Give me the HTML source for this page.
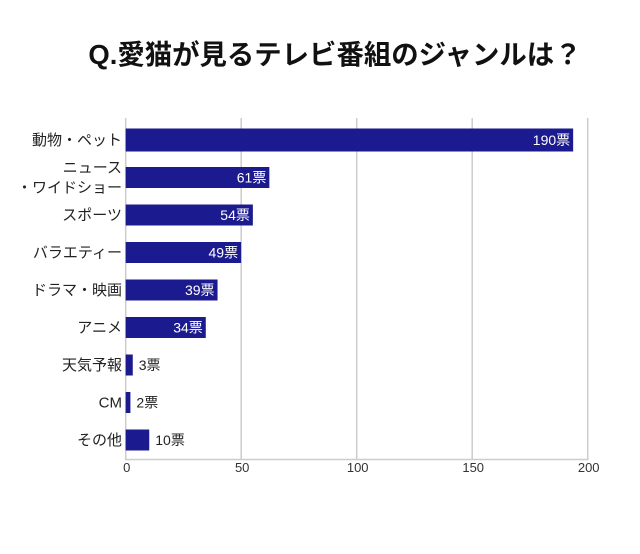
<!DOCTYPE html>
<html><head><meta charset="utf-8"><style>
body{margin:0;background:#fff;width:640px;height:549px;overflow:hidden;font-family:"Liberation Sans","Noto Sans CJK JP",sans-serif}
</style></head><body>
<svg width="640" height="549">
<text x="335" y="64" text-anchor="middle" font-size="27.4" font-weight="bold" fill="#111" font-family="Liberation Sans, Noto Sans CJK JP, sans-serif">Q.愛猫が見るテレビ番組のジャンルは？</text>
<g id="grid"></g><g id="bars"></g>
</svg>
<script>
const categories=["動物・ペット","ニュース\n・ワイドショー","スポーツ","バラエティー","ドラマ・映画","アニメ","天気予報","CM","その他"];
const values=[190,61,54,49,39,34,3,2,10];
const ticks=[0,50,100,150,200];
const rowCenters0=140, rowStep=37.5;
const x=v=>125.7+v*2.31;
const xb=v=>125.7+v*2.355;
const y=i=>rowCenters0+i*rowStep;
const NS="http://www.w3.org/2000/svg";
const grid=document.getElementById('grid'),bars=document.getElementById('bars');
function mk(tag,attrs,parent,text){const e=document.createElementNS(NS,tag);for(const k in attrs)e.setAttribute(k,attrs[k]);if(text!==undefined)e.textContent=text;parent.appendChild(e);return e;}
ticks.forEach(t=>{
 const l=mk('line',{x1:x(t),x2:x(t),y1:118,y2:460,stroke:'#ccc','stroke-width':1.5},grid);
 
 
 const tx=mk('text',{x:x(t)+1,y:472,'text-anchor':'middle','font-size':13,fill:'#333'},grid,t);
 
 
});
const ax=mk('line',{x1:125,x2:588.5,y1:459.5,y2:459.5,stroke:'#ccc','stroke-width':1.5},grid);


categories.forEach((c,i)=>{
 const cy=y(i),v=values[i],h=i==0?23:21;
 const r=mk('rect',{x:125.7,y:cy-h/2,width:xb(v)-125.7,height:h,fill:'#1c1a8f'},bars);
 
 
 const lines=c.split('\n');
 lines.forEach((ln,j)=>{
  const t=mk('text',{x:122,y:cy+5+(j-(lines.length-1)/2)*20,'text-anchor':'end','font-size':15,fill:'#222'},bars,ln);
  
  
 });
 const inside=v>20;
 const vl=mk('text',{x:inside?xb(v)-3:xb(v)+6,y:cy+5,'text-anchor':inside?'end':'start','font-size':14,fill:inside?'#fff':'#222'},bars,v+'票');
 
 
});
</script>
</body></html>
